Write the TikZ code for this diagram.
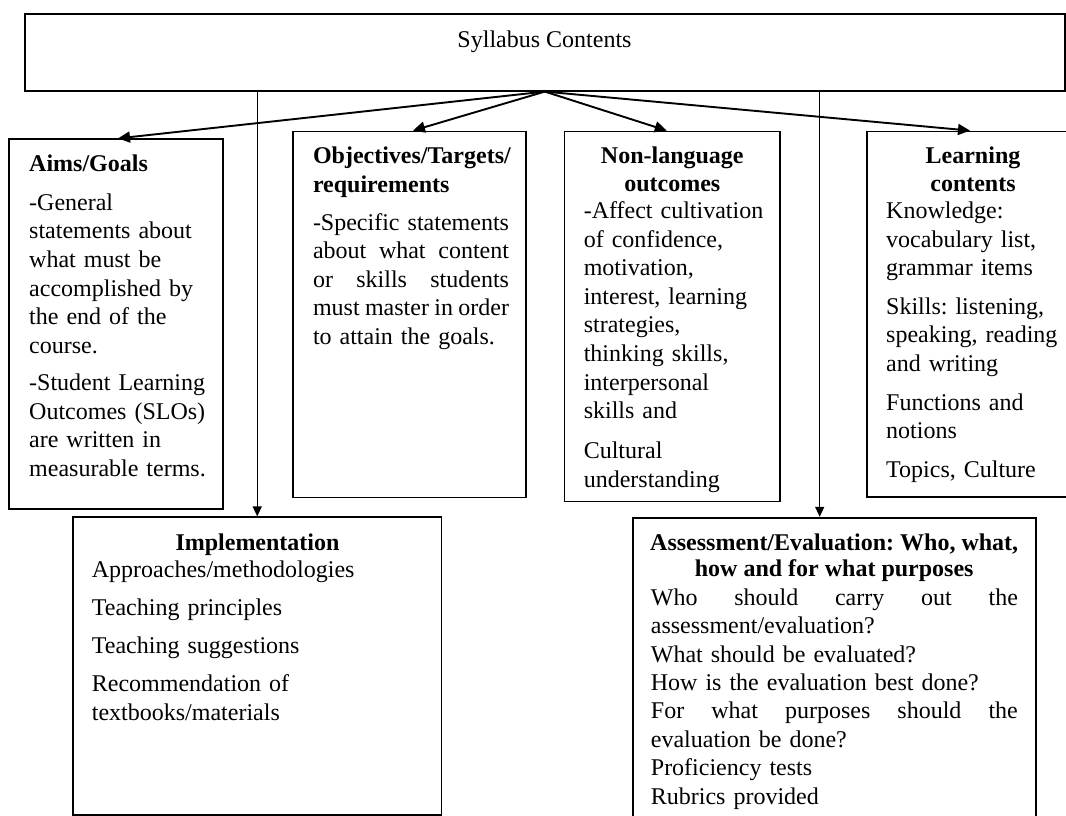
\documentclass[tikz,border=0pt]{standalone}
\usepackage{fontspec}
\setmainfont{Liberation Serif}
\usetikzlibrary{arrows.meta,calc}
\newcommand{\firststrut}{\rule{0pt}{18pt}}
\newcommand{\jline}[2]{\leavevmode\hbox to #1{#2}}
\frenchspacing
\begin{document}
\begin{tikzpicture}[x=1pt,y=-1pt,
  box/.style={draw=black,line width=1.8pt,inner sep=0pt,rectangle},
  body/.style={anchor=north west,inner sep=0pt,align=left,font=\frenchspacing\fontsize{24}{28.6}\selectfont},
  ttl/.style={anchor=north,inner sep=0pt,align=center,font=\frenchspacing\fontsize{24}{27.5}\selectfont\bfseries},
  diag/.style={line width=1.9pt,-{Triangle[length=12pt,width=11pt]}},
  vert/.style={line width=1.4pt,-{Triangle[length=10pt,width=9pt]}}]

\fill[white] (0,0) rectangle (1066,816);
\useasboundingbox (0,0) rectangle (1066,816);

% boxes
\node[box,minimum width=1039.7pt,minimum height=76.4pt] (top) at (544.85,52.5) {};
\node[box,minimum width=214pt,minimum height=369.7pt] (aims) at (116.3,324.15) {};
\node[box,minimum width=233pt,minimum height=366pt] (obj) at (409.5,314.5) {};
\node[box,minimum width=215.5pt,minimum height=370pt] (nonl) at (672.25,316.5) {};
\node[box,minimum width=212pt,minimum height=365.5pt] (learn) at (973,314.25) {};
\node[box,minimum width=368.5pt,minimum height=297.7pt] (impl) at (257.25,666.15) {};
\node[box,minimum width=403pt,minimum height=306pt] (assess) at (834.5,670.7) {};

% texts
\node[anchor=base,inner sep=0pt,font=\fontsize{24}{28}\selectfont] (stitle) at (544.5,48) {Syllabus Contents};

\node[body,text width=190pt] (aimstxt) at (29,153.7) {\firststrut\textbf{Aims/Goals}\\[9.7pt]
-General\\ statements about\\ what must be\\ accomplished by\\ the end of the\\ course.\\[8.7pt]
-Student Learning\\ Outcomes (SLOs)\\ are written in\\ measurable terms.};

\node[body,text width=200pt] (objtxt) at (312.8,145.3) {\firststrut\textbf{Objectives/Targets/}\\ \textbf{requirements}\\[9.5pt]
\jline{196pt}{-Specific\hfill statements}\\ \jline{196pt}{about\hfill what\hfill content}\\ \jline{196pt}{or\hfill skills\hfill students}\\ \jline{196pt}{must\hfill master\hfill in\hfill order}\\ to attain the goals.};

\node[ttl] (nonlttl) at (672.3,145.3) {\firststrut Non-language\\ outcomes};
\node[body,text width=190pt] (nonltxt) at (583.6,200.3) {\firststrut -Affect cultivation\\ of confidence,\\ motivation,\\ interest, learning\\ strategies,\\ thinking skills,\\ interpersonal\\ skills and\\[11.4pt] Cultural\\ understanding};

\node[ttl] (learnttl) at (973,145.3) {\firststrut Learning\\ contents};
\node[body,text width=180pt] (learntxt) at (886,200.3) {\firststrut Knowledge:\\ vocabulary list,\\ grammar items\\[10pt] Skills: listening,\\ speaking, reading\\ and writing\\[10pt] Functions and\\ notions\\[10pt] Topics, Culture};

\node[anchor=base,inner sep=0pt,font=\fontsize{24}{28}\selectfont\bfseries] (implttl) at (257.5,550) {Implementation};
\node[body,text width=320pt] (impltxt) at (91.7,559.7) {\firststrut Approaches/methodologies\\[9.4pt] Teaching principles\\[9.4pt] Teaching suggestions\\[9.4pt] Recommendation of\\ textbooks/materials};

\node[ttl,font=\frenchspacing\fontsize{24}{26.7}\selectfont\bfseries] (assessttl) at (834.2,532) {\firststrut Assessment/Evaluation: Who, what,\\ how and for what purposes};
\node[body,text width=370pt,font=\frenchspacing\fontsize{24}{28.4}\selectfont] (assesstxt) at (650.7,587) {\firststrut\jline{367pt}{Who\hfill should\hfill carry\hfill out\hfill the}\\ assessment/evaluation?\\ What should be evaluated?\\ How is the evaluation best done?\\ \jline{367pt}{For\hfill what\hfill purposes\hfill should\hfill the}\\ evaluation be done?\\ Proficiency tests\\ Rubrics provided};

% connectors
\draw[diag] (top.south) -- ([xshift=1.7pt]aims.north);
\draw[diag] (top.south) -- ([xshift=3.5pt]obj.north);
\draw[diag] (top.south) -- ([xshift=-5.5pt]nonl.north);
\draw[diag] (top.south) -- ([xshift=-3pt]learn.north);
\draw[vert] (impl.north |- top.south) -- (impl.north);
\draw[vert] ([xshift=-14.8pt]assess.north |- top.south) -- ([xshift=-14.8pt]assess.north);
\end{tikzpicture}
\end{document}
